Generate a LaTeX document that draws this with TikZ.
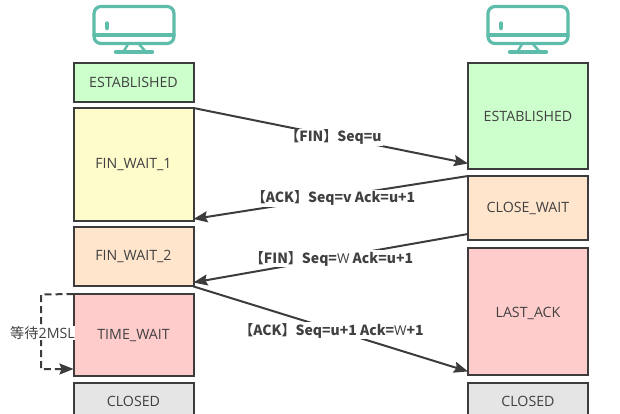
\documentclass[tikz,border=0pt]{standalone}
\usepackage{fontspec}
\setmainfont{Open Sans}
\newfontfamily\cjkfont{Noto Sans CJK SC}
\usetikzlibrary{arrows.meta}
\definecolor{iconcol}{HTML}{5DBDAA}
\definecolor{linecol}{HTML}{3C3C3C}
\definecolor{txtcol}{HTML}{404040}
\tikzset{
  statebox/.style={draw=linecol, line width=2pt, minimum width=120pt, inner sep=0pt, outer sep=0pt, text=txtcol, font=\fontsize{14.2}{16}\selectfont},
  msg/.style={draw=linecol, line width=2pt, -{Stealth[length=14pt,width=11pt,inset=2pt]}},
  msglabel/.style={fill=white, inner sep=1pt, text=txtcol, font=\cjkfont\bfseries\fontsize{14}{16}\selectfont},
  icon/.style={draw=iconcol, line width=3.2pt, line cap=round, line join=round}
}
\newcommand{\wch}[1]{{\rmfamily\mdseries\fontsize{13.5}{15}\selectfont #1}}
\begin{document}
\begin{tikzpicture}[x=1pt,y=1pt]
\useasboundingbox[clip] (0,0) rectangle (620,-413);
% computers
\foreach \sx in {0,394} {
\begin{scope}[xshift=\sx]
\draw[icon, rounded corners=7pt] (94,-6.5) rectangle (174,-43.5);
\draw[icon] (94,-35) -- (174,-35);
\draw[icon, line width=4.5pt] (107,-23.5) -- (107,-28);
\draw[icon, line width=2.5pt] (128,-44) -- (124,-51);
\draw[icon, line width=2.5pt] (139,-44) -- (145,-51);
\draw[icon, line width=4.5pt] (116,-52) -- (152,-52);
\end{scope}
}
% client
\node[statebox, fill=green!20, minimum height=39.5pt] (cest) at (133.5,-82.7) {ESTABLISHED};
\node[statebox, fill=yellow!20, minimum height=113pt] (fw1) at (133.5,-164.5) {FIN\_WAIT\_1};
\node[statebox, fill=orange!20, minimum height=59.5pt] (fw2) at (133.5,-256.7) {FIN\_WAIT\_2};
\node[statebox, fill=red!20, minimum height=82pt] (tw) at (133.5,-335) {TIME\_WAIT};
\node[statebox, fill=black!10, minimum height=40pt] (cclosed) at (133.5,-402.5) {\rule[-2pt]{0pt}{2pt}CLOSED};
% server
\node[statebox, fill=green!20, minimum height=106.5pt] (sest) at (528,-116.2) {ESTABLISHED};
\node[statebox, fill=orange!20, minimum height=64pt] (cw) at (528,-208) {CLOSE\_WAIT};
\node[statebox, fill=red!20, minimum height=127.5pt] (la) at (528,-311.7) {\rule{0pt}{14.2pt}LAST\_ACK};
\node[statebox, fill=black!10, minimum height=40pt] (sclosed) at (528,-402.5) {\rule[-2pt]{0pt}{2pt}CLOSED};
% messages
\draw[msg] (fw1.north east) -- node[msglabel, pos=.51, yshift=-1pt] (m1) {【FIN】Seq=u} ([yshift=6pt]sest.south west);
\draw[msg] (cw.north west) -- node[msglabel, pos=.49, yshift=-1pt] (m2) {【ACK】Seq=v Ack=u+1} ([yshift=2pt]fw1.south east);
\draw[msg] ([yshift=6pt]cw.south west) -- node[msglabel, pos=.49, xshift=-2pt, yshift=-1pt] (m3) {【FIN】Seq=\wch{W} Ack=u+1} ([yshift=4pt]fw2.south east);
\draw[msg] (fw2.south east) -- node[msglabel, pos=.51, xshift=-2pt, yshift=-1pt] (m4) {【ACK】Seq=u+1 Ack=\wch{W}+1} ([yshift=4pt]la.south west);
% wait
\coordinate (wtop) at (41,-294.5);
\coordinate (wbot) at (41,-369);
\draw[msg, dash pattern=on 7pt off 4pt] (tw.north west) -- (wtop) -- (wbot) -- (tw.west |- wbot);
\node[fill=white, inner sep=0.5pt, text=txtcol, font=\fontsize{14.2}{16}\selectfont] (wlabel) at (42.5,-333) {{\cjkfont 等待}2MSL};
\end{tikzpicture}
\end{document}
